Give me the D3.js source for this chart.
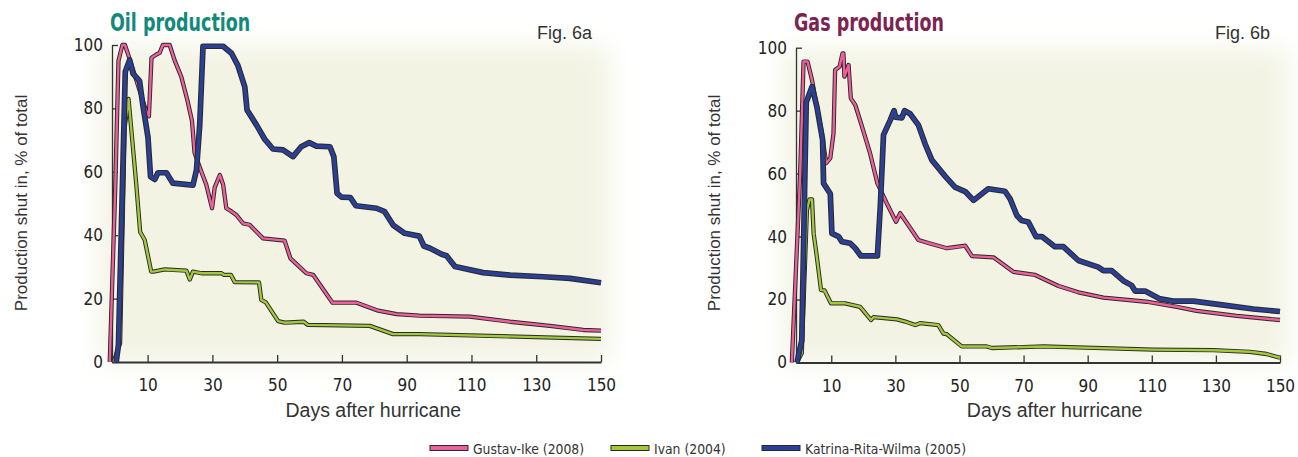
<!DOCTYPE html>
<html>
<head>
<meta charset="utf-8">
<script src="https://cdn.jsdelivr.net/npm/d3@7"></script>
<style>
  html, body { margin: 0; padding: 0; background: #fff; }
  svg { display: block; }
</style>
</head>
<body>
<div id="chart"></div>
<script>
// Hurricane shut-in curves, oil (6a) and gas (6b)
const seriesNames = ['Gustav-Ike (2008)', 'Ivan (2004)', 'Katrina-Rita-Wilma (2005)'];
const xTicks = [10, 30, 50, 70, 90, 110, 130, 150];
const yTicks = [0, 20, 40, 60, 80, 100];

// [day, % shut in]
const oilGustav = [[-1.7,0],[0,55],[1,95],[2.2,100],[3,100],[4.3,96],[9.6,79],[10.4,77.5],[11.2,96],[12.7,97],
  [13.7,97.5],[14.7,100],[16.8,100],[18.4,95],[20.4,90],[22.3,82.5],[23.7,76],[24.5,66],[26.6,60],[28.1,56],
  [29.9,48.5],[30.7,55],[32.3,59],[33.3,56],[34.3,48.5],[35.9,47.5],[37.4,46.4],[39.5,43.7],[41.5,43.3],
  [45.6,39],[52.3,38.3],[54.1,32.7],[59,28],[61.1,27.5],[67.1,18.7],[74.5,18.7],[81.2,16.2],[86.9,15.1],
  [94,14.6],[109.5,14.3],[121.9,12.7],[134.2,11.4],[144.5,10.1],[150,9.9]];
const oilIvan = [[-0.5,0],[1.5,6],[2.9,74],[4.1,83],[6.5,56],[7.7,41],[9.1,38.5],[11.1,28.5],[11.8,28.5],
  [15.3,29.2],[22,28.8],[23,26],[24,28.5],[26.6,28],[32.8,28],[33.5,27.5],[35.7,27.5],[36.9,25.2],[44.4,25.1],
  [45.1,19.6],[46.5,18.8],[50.3,12.9],[52.3,12.4],[58.2,12.7],[59.5,11.7],[78.6,11.4],[85.8,8.8],[94,8.8],[150,7.3]];
const oilKatrina = [[0.3,0],[1,5.5],[3.1,91.6],[4.45,95.3],[5.5,91],[7.5,88.7],[8.6,80.5],[10.1,71],[10.9,58.5],
  [12.2,57.6],[13.2,59.7],[15.8,59.7],[17.8,56.4],[24,55.8],[25.1,60.6],[26.1,75],[27.1,99.6],[33.3,99.6],
  [35.9,97.4],[37.9,93.5],[40,86.8],[40.7,79.5],[43.6,74.8],[46.2,70.2],[48.7,67.2],[51.8,66.9],[54.9,64.8],
  [57.4,67.9],[59.9,69.2],[62.1,68.1],[66.3,67.9],[67.5,64.8],[68.5,53.2],[69.9,52],[72.6,51.9],[74.3,49.3],
  [80.7,48.5],[83.2,47.4],[85.8,43.2],[89.4,40.6],[93.9,39.7],[95.3,36.6],[97.2,35.9],[100.8,34],[102.3,33.5],
  [104.9,30.1],[113.6,28.2],[121.9,27.4],[132.2,26.9],[140.4,26.4],[150,25]];

const gasGustav = [[-2.3,0],[0.3,60],[1.35,95.6],[2.6,95.6],[4,89.7],[5.5,81.3],[7.1,72.8],[8.4,63.3],[9.7,64.9],
  [10.7,72.8],[11.2,92.9],[12.6,94],[13.5,98.2],[13.8,98.2],[14.1,90.8],[15.4,94.5],[16.1,83.9],[17.5,81.8],
  [19.6,74.9],[22.1,66.5],[24.4,56.9],[27.3,50.6],[30.2,44.7],[31.5,47.4],[37.2,38.9],[40.8,37.8],[46.1,36.3],
  [51.8,37.1],[53.9,33.8],[60.6,33.4],[66.8,28.8],[73.6,27.8],[80.9,24.3],[87.1,22.3],[94.9,20.6],[108.4,19.3],
  [117.8,17.7],[124,16.4],[136.5,14.8],[150,13.5]];
const gasIvan = [[-0.7,0],[0.8,3],[2.4,48.4],[3.2,51.8],[4,51.8],[4.5,41],[5.5,33.6],[6.8,23],[7.9,22.9],
  [9.9,18.8],[14.3,18.8],[19,17.7],[20.3,16.1],[22.4,13.5],[23.2,14.4],[30.5,13.7],[33.1,13],[36.2,11.9],
  [37.7,12.5],[43.4,11.9],[45,9.2],[46,9],[50.7,5.1],[58.5,5.1],[60.1,4.6],[76.2,5.1],[110.5,4.1],[129.2,3.9],
  [140.6,3.4],[145.8,2.7],[150,1.5]];
const gasKatrina = [[-0.7,0],[0.8,7],[2.2,82.7],[4,87.6],[5.5,81.3],[7.3,70.7],[7.6,56.9],[9.7,53.6],[10.2,41],
  [12.3,40],[13.3,38.4],[15.9,37.9],[17.5,36.3],[19.2,33.9],[24.4,33.9],[25.3,49.5],[26.3,72.3],[28.4,77],
  [29.6,80],[30.1,77.9],[32,77.7],[32.9,80],[34.6,79],[37.2,75.4],[39.3,69.4],[41.4,64.3],[45.5,59.2],
  [48.6,55.7],[51.8,54.3],[54.4,51.5],[59,55.2],[64.2,54.4],[65.8,52],[67.9,46.7],[69.4,45.1],[71.5,44.6],
  [73.9,40],[75.7,40],[79.8,36.8],[82.4,36.8],[87.1,32.4],[93.3,30.3],[94.9,29.2],[97.5,29.2],[101.1,26],
  [103.7,24.5],[104.8,22.7],[107.9,22.7],[112.6,20.2],[116.7,19.5],[123,19.5],[131.3,18.4],[141.7,17],[150,16.2]];

const narrow = "'Liberation Sans Narrow', 'DejaVu Sans Condensed', 'Roboto Condensed', sans-serif";
const regular = "'Liberation Sans', Arial, sans-serif";

// line look per series: inner colour + dark outline
const styles = [
  { color: '#ef5f9c', inner: 2.4, outer: 4.3 },
  { color: '#a3c93a', inner: 2.4, outer: 4.3 },
  { color: '#2b3f96', inner: 3.6, outer: 5.7 }
];

const width = 1298, height = 457;

const svg = d3.select('#chart').append('svg')
  .attr('width', width)
  .attr('height', height);

svg.append('rect').attr('width', width).attr('height', height).attr('fill', '#fff');

const defs = svg.append('defs');
defs.append('filter')
  .attr('id', 'glow')
  .attr('x', '-20%').attr('y', '-20%').attr('width', '140%').attr('height', '140%')
  .append('feGaussianBlur').attr('stdDeviation', 13);

const panels = [
  { title: 'Oil production', titleColor: '#12897a', fig: 'Fig. 6a', figX: 537,
    x0: 112, x1: 601, y0: 362, y1: 45, yLabelX: 27, series: [oilGustav, oilIvan, oilKatrina] },
  { title: 'Gas production', titleColor: '#7b2452', fig: 'Fig. 6b', figX: 1215,
    x0: 796, x1: 1280, y0: 362.5, y1: 47.7, yLabelX: 720, series: [gasGustav, gasIvan, gasKatrina] }
];

panels.forEach(p => {
  const x = d3.scaleLinear().domain([-1, 150]).range([p.x0, p.x1]);
  const y = d3.scaleLinear().domain([0, 100]).range([p.y0, p.y1]);

  // soft cream backdrop
  svg.append('rect')
    .attr('x', p.x0 - 12).attr('y', p.y1 + 2)
    .attr('width', p.x1 - p.x0 + 20).attr('height', p.y0 - p.y1 - 2)
    .attr('fill', '#f2f3e3')
    .attr('filter', 'url(#glow)');

  // condensed bold title, squeezed to the reference width
  svg.append('text')
    .attr('transform', `translate(${p.x0 - 2},31) scale(0.81,1)`)
    .attr('fill', p.titleColor)
    .attr('font-family', narrow)
    .attr('font-weight', 'bold')
    .attr('font-size', 24)
    .text(p.title);

  svg.append('text')
    .attr('x', p.figX).attr('y', 39)
    .attr('fill', '#333')
    .attr('font-family', regular)
    .attr('font-size', 18)
    .text(p.fig);

  // axes
  const yAxis = svg.append('g')
    .attr('transform', `translate(${p.x0},0)`)
    .call(d3.axisLeft(y).tickValues(yTicks).tickSize(-6).tickSizeOuter(0).tickPadding(9));
  yAxis.select('.domain').attr('stroke', '#333').attr('stroke-width', 1.3);
  yAxis.selectAll('.tick line').attr('stroke', '#333').attr('stroke-width', 1.3);
  yAxis.selectAll('.tick text')
    .attr('fill', '#222').attr('font-family', narrow).attr('font-size', 17);

  const xAxis = svg.append('g')
    .attr('transform', `translate(0,${p.y0})`)
    .call(d3.axisBottom(x).tickValues(xTicks).tickSize(-7).tickSizeOuter(0).tickPadding(17));
  xAxis.select('.domain').attr('stroke', '#333').attr('stroke-width', 2);
  xAxis.selectAll('.tick line').attr('stroke', '#333').attr('stroke-width', 1.3);
  xAxis.selectAll('.tick text')
    .attr('fill', '#222').attr('font-family', narrow).attr('font-size', 17);

  svg.append('text')
    .attr('transform', `translate(${p.yLabelX},203) rotate(-90)`)
    .attr('text-anchor', 'middle')
    .attr('fill', '#333')
    .attr('font-family', regular)
    .attr('font-size', 17)
    .text('Production shut in, % of total');

  svg.append('text')
    .attr('x', (x(10) + x(150)) / 2 - 1).attr('y', 417)
    .attr('text-anchor', 'middle')
    .attr('fill', '#333')
    .attr('font-family', regular)
    .attr('font-size', 19.5)
    .text('Days after hurricane');

  const line = d3.line().x(d => x(d[0])).y(d => y(d[1]));

  p.series.forEach((s, i) => {
    const st = styles[i];
    svg.append('path')
      .attr('d', line(s))
      .attr('fill', 'none')
      .attr('stroke', '#2a2a2a')
      .attr('stroke-width', st.outer)
      .attr('stroke-linejoin', 'round');
    svg.append('path')
      .attr('d', line(s))
      .attr('fill', 'none')
      .attr('stroke', st.color)
      .attr('stroke-width', st.inner)
      .attr('stroke-linejoin', 'round');
  });
});

// legend
const legendX = [430, 611, 762];
const legend = svg.append('g');
seriesNames.forEach((name, i) => {
  const g = legend.append('g').attr('transform', `translate(${legendX[i]},448)`);
  g.append('rect')
    .attr('x', 0).attr('y', -2.5)
    .attr('width', 38).attr('height', 5)
    .attr('fill', styles[i].color)
    .attr('stroke', '#2a2a2a')
    .attr('stroke-width', 1);
  g.append('text')
    .attr('x', 43).attr('y', 5.5)
    .attr('fill', '#333')
    .attr('font-family', narrow)
    .attr('font-size', 13.8)
    .text(name);
});
</script>
</body>
</html>
